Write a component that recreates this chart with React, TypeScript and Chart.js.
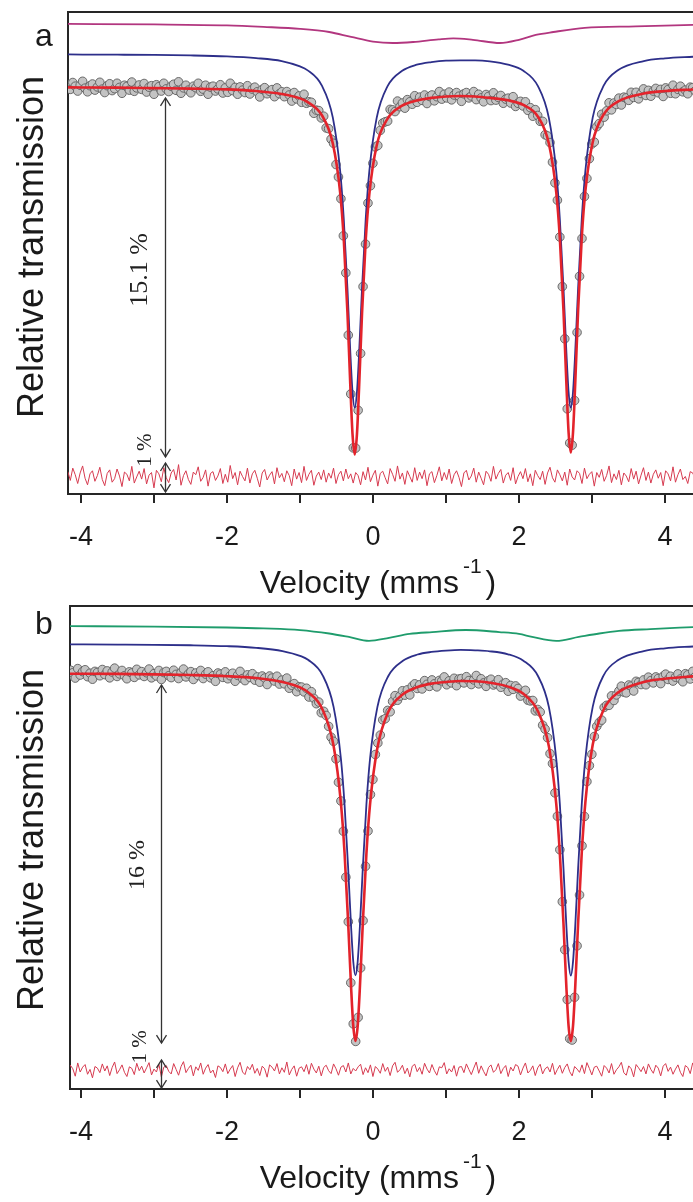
import React, { useEffect, useRef } from "react";
import { Chart, registerables } from "chart.js";

Chart.register(...registerables);

// ---------- shared axis content ----------
const X_TICKS = [-4, -3, -2, -1, 0, 1, 2, 3, 4];
const X_TITLE = "Velocity (mms";
const X_TITLE_SUP = "-1";
const Y_TITLE = "Relative transmission";

// channel calibration (velocity of channel i = CH_START + CH_STEP * i)
const CH_START = -4.18;
const CH_STEP = 0.0337;

// ---------- panel a ----------
const FIT_V_A = [-4.2, -3.5, -3.0, -2.5, -2.0, -1.6, -1.25, -1.0, -0.9, -0.7, -0.55, -0.45, -0.4, -0.35, -0.31, -0.28, -0.25, -0.22, -0.19, -0.15, -0.1, -0.05, 0.05, 0.2, 0.4, 0.6, 0.8, 1.0, 1.2, 1.4, 1.6, 1.85, 2.06, 2.26, 2.41, 2.51, 2.56, 2.61, 2.65, 2.68, 2.71, 2.74, 2.77, 2.81, 2.86, 2.91, 3.01, 3.16, 3.36, 3.71, 4.0, 4.4];
const RED_A = [99.98, 99.97, 99.95, 99.93, 99.9, 99.83, 99.71, 99.53, 99.39, 98.84, 97.68, 95.68, 93.75, 90.77, 87.74, 85.76, 84.94, 85.75, 87.72, 90.73, 93.7, 95.61, 97.59, 98.7, 99.23, 99.44, 99.55, 99.61, 99.63, 99.61, 99.55, 99.45, 99.26, 98.78, 97.67, 95.7, 93.79, 90.82, 87.81, 85.83, 85.02, 85.83, 87.81, 90.84, 93.82, 95.75, 97.73, 98.87, 99.41, 99.73, 99.83, 99.9];
const BLUE_A = [101.33, 101.32, 101.31, 101.29, 101.25, 101.18, 101.06, 100.84, 100.69, 100.05, 98.74, 96.57, 94.58, 91.75, 89.1, 87.49, 86.86, 87.49, 89.1, 91.74, 94.57, 96.55, 98.72, 100.03, 100.66, 100.91, 101.02, 101.08, 101.09, 101.09, 101.05, 100.91, 100.66, 100.03, 98.72, 96.55, 94.57, 91.74, 89.1, 87.49, 86.86, 87.49, 89.1, 91.75, 94.58, 96.57, 98.74, 100.05, 100.69, 101.06, 101.17, 101.24];
const MAG_V_A = [-4.2, -3.0, -2.0, -1.5, -1.0, -0.6, -0.3, 0.0, 0.27, 0.55, 0.9, 1.1, 1.37, 1.74, 2.0, 2.23, 2.47, 2.9, 3.6, 4.4];
const MAG_Y_A = [102.58, 102.56, 102.52, 102.46, 102.38, 102.25, 102.05, 101.86, 101.8, 101.84, 101.95, 101.99, 101.93, 101.8, 101.93, 102.13, 102.25, 102.42, 102.48, 102.54];
const DATA_A = [
  100.10, 99.90, 100.18, 100.03, 99.83, 100.07, 100.23, 99.95, 99.80, 100.05, 100.12, 99.87, 100.00, 100.19, 99.91, 99.77,
  100.05, 100.13, 99.85, 99.93, 100.15, 99.98, 99.74, 100.07, 100.02, 99.87, 100.20, 99.82, 99.96, 100.08, 99.90, 100.14,
  99.79, 99.99, 100.05, 99.70, 100.09, 100.01, 99.83, 100.15, 99.92, 99.81, 100.03, 100.11, 99.86, 100.21, 99.74, 99.96,
  100.07, 99.87, 99.76, 100.03, 99.97, 100.15, 99.82, 99.91, 100.07, 99.70, 99.99, 100.03, 99.83, 99.92, 100.09, 99.75,
  99.96, 99.78, 100.15, 99.85, 99.98, 99.70, 100.00, 99.87, 99.77, 100.05, 99.71, 99.91, 99.99, 99.80, 99.59, 99.90,
  99.97, 99.72, 99.82, 99.89, 99.60, 99.96, 99.72, 99.80, 99.60, 99.81, 99.67, 99.42, 99.77, 99.51, 99.63, 99.37,
  99.70, 99.33, 99.39, 99.37, 98.92, 99.05, 99.03, 98.73, 98.80, 98.32, 98.29, 97.86, 97.69, 96.82, 96.31, 95.42,
  93.90, 92.38, 89.83, 87.42, 85.21, 85.20, 86.75, 89.08, 91.82, 93.56, 95.24, 95.95, 96.87, 97.54, 97.60, 98.22,
  98.52, 98.57, 98.60, 99.08, 99.06, 98.99, 99.42, 99.19, 99.34, 99.13, 99.48, 99.39, 99.29, 99.64, 99.37, 99.58,
  99.45, 99.67, 99.32, 99.61, 99.67, 99.43, 99.60, 99.81, 99.50, 99.70, 99.55, 99.79, 99.47, 99.67, 99.77, 99.62,
  99.41, 99.72, 99.77, 99.55, 99.63, 99.81, 99.48, 99.70, 99.55, 99.39, 99.69, 99.61, 99.44, 99.76, 99.46, 99.57,
  99.65, 99.33, 99.50, 99.54, 99.34, 99.60, 99.20, 99.33, 99.41, 99.22, 99.39, 99.04, 99.15, 98.80, 99.07, 98.83,
  98.59, 98.59, 98.04, 97.99, 97.72, 96.92, 96.07, 95.36, 93.85, 91.82, 89.68, 86.81, 85.41, 85.32, 87.15, 89.94,
  92.24, 93.79, 95.51, 96.25, 97.06, 97.66, 97.74, 98.37, 98.50, 98.88, 98.76, 99.02, 99.35, 99.06, 99.34, 99.28,
  99.54, 99.26, 99.58, 99.55, 99.45, 99.78, 99.57, 99.78, 99.51, 99.73, 99.92, 99.65, 99.86, 99.62, 99.83, 99.94,
  99.76, 99.90, 99.61, 99.96, 99.89, 99.74, 100.07, 99.72, 99.90, 100.03, 99.80, 99.87, 99.72, 99.99, 99.97, 99.84,
];
// residual (data - fit), in 0.01 %
const RESID_A = [
  12, -8, 20, 5, -15, 9, 25, -3, -18, 7, 14, -10, 3, 22, -6, -20,
  8, 16, -12, -4, 18, 2, -22, 11, 6, -9, 24, -14, 0, 13, -5, 19,
  -16, 4, 10, -25, 15, 7, -11, 21, -2, -13, 9, 17, -7, 28, -19, 3,
  14, -6, -17, 11, 5, 23, -10, -1, 16, -21, 8, 12, -8, 2, 19, -15,
  6, -12, 26, -4, 10, -18, 13, 1, -9, 20, -14, 7, 15, -3, -23, 9,
  17, -7, 4, 12, -16, 21, -2, 8, -11, 14, 3, -20, 18, -5, 10, -13,
  24, -8, 6, 15, -19, 2, 11, -6, 16, -12, 9, -3, 20, -15, 5, 13,
  -9, 18, -4, 7, -14, 10, 3, -18, 12, -7, 22, -11, 4, 15, -21, 8,
  13, -2, -16, 19, 6, -10, 25, -5, 9, -17, 14, 1, -12, 21, -8, 11,
  -4, 16, -20, 7, 12, -13, 3, 23, -9, 10, -6, 18, -15, 5, 14, -1,
  -22, 9, 15, -7, 2, 20, -12, 11, -3, -18, 13, 6, -10, 24, -5, 8,
  17, -14, 4, 10, -8, 21, -16, 1, 12, -4, 19, -11, 7, -20, 15, 3,
  -6, 13, -17, 9, 22, -2, -12, 16, 5, -9, 11, -19, 18, 0, -7, 14,
  8, -15, 20, -4, 6, 12, -21, 10, -1, 17, -10, 3, 25, -13, 7, -6,
  15, -18, 9, 2, -11, 19, -5, 13, -16, 4, 21, -8, 11, -14, 6, 16,
  -3, 10, -20, 14, 7, -9, 23, -12, 5, 18, -6, 1, -15, 12, 9, -4,
];

// ---------- panel b ----------
const FIT_V_B = [-4.2, -3.5, -3.0, -2.5, -2.0, -1.6, -1.24, -0.99, -0.89, -0.69, -0.54, -0.44, -0.39, -0.34, -0.3, -0.27, -0.24, -0.21, -0.18, -0.14, -0.09, -0.04, 0.06, 0.21, 0.41, 0.61, 0.8, 1.0, 1.2, 1.4, 1.6, 1.85, 2.06, 2.26, 2.41, 2.51, 2.56, 2.61, 2.65, 2.68, 2.71, 2.74, 2.77, 2.81, 2.86, 2.91, 3.01, 3.16, 3.36, 3.71, 4.0, 4.4];
const RED_B = [99.97, 99.96, 99.94, 99.91, 99.86, 99.78, 99.61, 99.36, 99.17, 98.41, 96.85, 94.39, 92.24, 89.17, 86.39, 84.72, 84.07, 84.71, 86.36, 89.14, 92.19, 94.33, 96.75, 98.32, 99.08, 99.39, 99.54, 99.61, 99.65, 99.64, 99.58, 99.41, 99.1, 98.34, 96.82, 94.35, 92.18, 89.13, 86.35, 84.7, 84.06, 84.71, 86.37, 89.16, 92.23, 94.42, 96.89, 98.41, 99.16, 99.61, 99.75, 99.86];
const BLUE_B = [101.24, 101.23, 101.22, 101.2, 101.16, 101.09, 100.95, 100.73, 100.57, 99.9, 98.53, 96.31, 94.32, 91.53, 89.01, 87.5, 86.91, 87.5, 89.0, 91.53, 94.32, 96.3, 98.52, 99.87, 100.53, 100.8, 100.91, 100.97, 101.0, 100.98, 100.94, 100.81, 100.53, 99.87, 98.52, 96.29, 94.31, 91.52, 89.0, 87.49, 86.9, 87.49, 89.0, 91.53, 94.32, 96.3, 98.53, 99.9, 100.56, 100.95, 101.07, 101.15];
const GRN_V_B = [-4.2, -3.0, -2.0, -1.5, -1.0, -0.6, -0.33, -0.055, 0.22, 0.5, 0.81, 1.27, 1.73, 2.0, 2.18, 2.51, 2.82, 3.1, 3.37, 3.8, 4.4];
const GRN_Y_B = [102.03, 102.01, 101.97, 101.93, 101.86, 101.71, 101.56, 101.39, 101.52, 101.69, 101.77, 101.86, 101.77, 101.69, 101.56, 101.39, 101.56, 101.71, 101.82, 101.9, 101.99];
const DATA_B = [
  99.87, 100.12, 100.01, 99.78, 100.19, 99.91, 100.06, 100.14, 99.84, 99.99, 99.73, 100.07, 100.02, 99.88, 100.15, 99.93,
  100.09, 99.79, 100.04, 100.21, 99.85, 99.96, 100.11, 99.88, 99.75, 100.05, 100.00, 99.81, 100.16, 99.92, 100.06, 99.85,
  100.01, 100.17, 99.79, 99.97, 99.87, 100.11, 99.72, 100.02, 100.07, 99.88, 99.80, 100.12, 99.94, 99.76, 100.02, 100.17,
  99.83, 99.96, 100.06, 99.72, 100.00, 99.89, 100.11, 99.76, 99.95, 100.05, 99.79, 99.88, 99.64, 100.00, 99.95, 99.81,
  100.05, 99.75, 99.88, 99.99, 99.64, 99.90, 100.07, 99.76, 99.67, 99.92, 99.81, 99.97, 99.69, 99.83, 99.60, 99.87,
  99.78, 99.50, 99.87, 99.78, 99.65, 99.86, 99.52, 99.69, 99.53, 99.78, 99.34, 99.47, 99.54, 99.19, 99.40, 99.39,
  99.18, 99.34, 98.96, 99.19, 98.90, 98.67, 98.74, 98.28, 98.34, 98.16, 97.69, 97.22, 97.04, 96.28, 95.27, 94.46,
  93.15, 91.16, 89.23, 86.59, 84.81, 84.05, 85.09, 87.23, 89.28, 91.63, 93.16, 94.74, 95.39, 96.47, 96.97, 97.31,
  97.97, 98.02, 98.38, 98.32, 98.77, 99.02, 98.82, 99.00, 99.23, 99.04, 99.27, 99.05, 99.43, 99.53, 99.33, 99.49,
  99.31, 99.67, 99.51, 99.42, 99.70, 99.53, 99.40, 99.68, 99.66, 99.83, 99.49, 99.66, 99.57, 99.77, 99.45, 99.74,
  99.76, 99.57, 99.84, 99.67, 99.50, 99.70, 99.89, 99.53, 99.75, 99.57, 99.42, 99.67, 99.73, 99.48, 99.54, 99.71,
  99.38, 99.52, 99.58, 99.21, 99.46, 99.29, 99.44, 99.33, 99.00, 99.16, 99.25, 98.82, 98.79, 98.81, 98.36, 98.42,
  98.31, 97.74, 97.57, 97.20, 96.51, 96.08, 94.81, 93.80, 92.35, 90.10, 88.02, 85.86, 84.17, 84.11, 85.96, 88.19,
  90.39, 92.52, 93.79, 95.30, 95.99, 96.48, 97.25, 97.69, 97.86, 97.96, 98.51, 98.60, 98.60, 99.01, 98.81, 99.05,
  99.22, 99.43, 99.17, 99.14, 99.48, 99.43, 99.22, 99.64, 99.59, 99.50, 99.70, 99.49, 99.82, 99.67, 99.57, 99.83,
  99.76, 99.54, 99.86, 99.95, 99.72, 99.86, 99.65, 99.82, 99.96, 99.74, 99.62, 99.97, 99.92, 99.74, 100.07, 99.84,
];
const RESID_B = [
  -10, 15, 4, -19, 22, -6, 9, 17, -13, 2, -24, 11, 6, -8, 19, -3,
  13, -17, 8, 25, -11, 1, 16, -7, -20, 10, 5, -14, 21, -2, 12, -9,
  7, 23, -15, 3, -6, 18, -21, 9, 14, -4, -12, 20, 2, -16, 11, 26,
  -8, 5, 15, -18, 10, -1, 22, -13, 6, 17, -9, 0, -23, 13, 8, -5,
  19, -11, 3, 14, -20, 7, 24, -6, -14, 11, 1, 18, -10, 5, -17, 12,
  4, -22, 16, 9, -3, 20, -12, 7, -7, 25, -15, 2, 13, -19, 6, 10,
  -5, 17, -13, 21, 3, -9, 12, -18, 8, 15, -2, -11, 19, 4, -16, 9,
  14, -6, 22, -12, 5, -3, 10, 18, -14, 7, -8, 16, -20, 11, 3, -10,
  20, -4, 9, -17, 13, 24, -7, 1, 15, -11, 6, -21, 12, 18, -5, 8,
  -13, 21, 3, -9, 17, -2, -16, 10, 7, 23, -12, 4, -6, 14, -19, 9,
  11, -8, 19, 2, -14, 6, 25, -10, 13, -4, -18, 8, 16, -7, 1, 20,
  -11, 5, 14, -20, 9, -3, 17, 12, -15, 6, 22, -9, -1, 13, -17, 7,
  18, -12, 4, 10, -6, 21, -14, 2, 15, -10, 8, 19, -5, -18, 11, 3,
  -7, 16, -11, 23, 5, -15, 9, 12, -3, -19, 14, 6, -9, 20, -13, 1,
  10, 24, -8, -16, 13, 4, -21, 17, 7, -5, 11, -12, 19, 2, -10, 15,
  6, -18, 12, 20, -4, 9, -13, 3, 16, -7, -20, 14, 8, -11, 22, -2,
];

// ---------- styles ----------
const SANS = '"Liberation Sans", Arial, sans-serif';
const SERIF = '"Liberation Serif", "Times New Roman", serif';
const AXIS_COLOR = "#262626";
const TEXT_COLOR = "#1a1a1a";
const RED = "#e3232b";
const BLUE = "#2d2f8a";
const MAGENTA = "#b2367f";
const GREEN = "#1f9c6c";
const RESID_COLOR = "#d63a4f";

type Panel = {
  letter: string; letterY: number;
  height: number; padTop: number; axisLeft: number; xAxisH: number;
  xMin: number; xMax: number; yMin: number; yMax: number;
  fitV: number[]; red: number[]; blue: number[];
  subV: number[]; subY: number[]; subColor: string;
  data: number[]; resid: number[]; resBase: number; resGain: number;
  arrowV: number; arrowTop: number; arrowBottom: number; resTop: number; resBottom: number;
  depthLabel: string; depthSize: number; depthV: number; depthY: number; oneV: number; oneY: number;
  yTitleCY: number; xTitleBase: number; xTitleCX: number;
};

const PANEL_A: Panel = {
  letter: "a", letterY: 46,
  height: 601, padTop: 12, axisLeft: 68, xAxisH: 107,
  xMin: -4.178, xMax: 4.384, yMin: 83.32, yMax: 103.07,
  fitV: FIT_V_A, red: RED_A, blue: BLUE_A,
  subV: MAG_V_A, subY: MAG_Y_A, subColor: MAGENTA,
  data: DATA_A, resid: RESID_A, resBase: 84.02, resGain: 1.8,
  arrowV: -2.85, arrowTop: 99.55, arrowBottom: 84.84, resTop: 84.59, resBottom: 83.4,
  depthLabel: "15.1 %", depthSize: 26, depthV: -3.19, depthY: 92.5, oneV: -3.12, oneY: 85.12,
  yTitleCY: 247, xTitleBase: 593, xTitleCX: 378,
};

const PANEL_B: Panel = {
  letter: "b", letterY: 33,
  height: 601, padTop: 5, axisLeft: 70, xAxisH: 113,
  xMin: -4.151, xMax: 4.384, yMin: 81.99, yMax: 102.9,
  fitV: FIT_V_B, red: RED_B, blue: BLUE_B,
  subV: GRN_V_B, subY: GRN_Y_B, subColor: GREEN,
  data: DATA_B, resid: RESID_B, resBase: 82.81, resGain: 1.4,
  arrowV: -2.9, arrowTop: 99.48, arrowBottom: 83.98, resTop: 83.25, resBottom: 82.03,
  depthLabel: "16 %", depthSize: 24, depthV: -3.23, depthY: 91.69, oneV: -3.19, oneY: 83.81,
  yTitleCY: 239, xTitleBase: 587, xTitleCX: 378,
};

function head(ctx: CanvasRenderingContext2D, x: number, y: number, dir: number) {
  // dir = -1 : tip pointing up ; +1 : tip pointing down
  ctx.beginPath();
  ctx.moveTo(x - 5, y - dir * 8);
  ctx.lineTo(x, y);
  ctx.lineTo(x + 5, y - dir * 8);
  ctx.stroke();
}

function annotPlugin(p: Panel) {
  return {
    id: "annot" + p.letter,
    afterDraw(chart: any) {
      const { ctx, chartArea: ca, scales } = chart;
      const xs = scales.x;
      const ys = scales.y;
      ctx.save();
      // top frame line
      ctx.strokeStyle = AXIS_COLOR;
      ctx.lineWidth = 2;
      ctx.beginPath();
      ctx.moveTo(ca.left - 1, ca.top);
      ctx.lineTo(chart.width, ca.top);
      ctx.stroke();

      ctx.fillStyle = TEXT_COLOR;
      // panel letter
      ctx.font = `32px ${SANS}`;
      ctx.textAlign = "center";
      ctx.textBaseline = "alphabetic";
      ctx.fillText(p.letter, 44, p.letterY);

      // y title
      ctx.save();
      ctx.translate(43, p.yTitleCY);
      ctx.rotate(-Math.PI / 2);
      ctx.font = `36px ${SANS}`;
      ctx.textAlign = "center";
      ctx.textBaseline = "alphabetic";
      ctx.fillText(Y_TITLE, 0, 0);
      ctx.restore();

      // x title with superscript
      ctx.font = `32px ${SANS}`;
      const w1 = ctx.measureText(X_TITLE).width;
      const w3 = ctx.measureText(")").width;
      ctx.font = `21px ${SANS}`;
      const w2 = ctx.measureText(X_TITLE_SUP).width;
      const gap = 4;
      const total = w1 + gap + w2 + gap + w3;
      const x0 = p.xTitleCX - total / 2;
      ctx.textAlign = "left";
      ctx.font = `32px ${SANS}`;
      ctx.fillText(X_TITLE, x0, p.xTitleBase);
      ctx.font = `21px ${SANS}`;
      ctx.fillText(X_TITLE_SUP, x0 + w1 + gap, p.xTitleBase - 20);
      ctx.font = `32px ${SANS}`;
      ctx.fillText(")", x0 + w1 + gap + w2 + gap, p.xTitleBase);

      // depth arrows
      const ax = Math.round(xs.getPixelForValue(p.arrowV)) + 0.5;
      ctx.strokeStyle = "#333333";
      ctx.lineWidth = 1.3;
      const yT = ys.getPixelForValue(p.arrowTop);
      const yB = ys.getPixelForValue(p.arrowBottom);
      ctx.beginPath();
      ctx.moveTo(ax, yT);
      ctx.lineTo(ax, yB);
      ctx.stroke();
      head(ctx, ax, yT, -1);
      head(ctx, ax, yB, 1);
      const rT = ys.getPixelForValue(p.resTop);
      const rB = ys.getPixelForValue(p.resBottom);
      ctx.beginPath();
      ctx.moveTo(ax, rT);
      ctx.lineTo(ax, rB);
      ctx.stroke();
      head(ctx, ax, rT, -1);
      head(ctx, ax, rB, 1);

      // rotated serif labels
      ctx.fillStyle = "#222222";
      ctx.textAlign = "center";
      ctx.textBaseline = "middle";
      ctx.save();
      ctx.translate(xs.getPixelForValue(p.depthV), ys.getPixelForValue(p.depthY));
      ctx.rotate(-Math.PI / 2);
      ctx.font = `${p.depthSize}px ${SERIF}`;
      ctx.fillText(p.depthLabel, 0, 0);
      ctx.restore();
      ctx.save();
      ctx.translate(xs.getPixelForValue(p.oneV), ys.getPixelForValue(p.oneY));
      ctx.rotate(-Math.PI / 2);
      ctx.font = `21px ${SERIF}`;
      ctx.fillText("1 %", 0, 0);
      ctx.restore();

      ctx.restore();
    },
  };
}

function makeChart(canvas: HTMLCanvasElement, p: Panel) {
  const fitRed = p.fitV.map((v, i) => ({ x: v, y: p.red[i] }));
  const fitBlue = p.fitV.map((v, i) => ({ x: v, y: p.blue[i] }));
  const sub = p.subV.map((v, i) => ({ x: v, y: p.subY[i] }));
  const pts = p.data.map((y, i) => ({ x: CH_START + CH_STEP * i, y }));
  const res = p.resid.map((r, i) => ({ x: CH_START + CH_STEP * i, y: p.resBase + (p.resGain * r) / 100 }));

  return new Chart(canvas, {
    type: "scatter",
    data: {
      datasets: [
        { data: fitRed, showLine: true, borderColor: RED, borderWidth: 2.6, pointRadius: 0, cubicInterpolationMode: "monotone", order: 1 } as any,
        { data: fitBlue, showLine: true, borderColor: BLUE, borderWidth: 1.8, pointRadius: 0, cubicInterpolationMode: "monotone", order: 2 } as any,
        { data: sub, showLine: true, borderColor: p.subColor, borderWidth: 1.8, pointRadius: 0, cubicInterpolationMode: "monotone", order: 3 } as any,
        { data: res, showLine: true, borderColor: RESID_COLOR, borderWidth: 1, pointRadius: 0, tension: 0, order: 4 } as any,
        { data: pts, showLine: false, pointRadius: 4.3, pointBackgroundColor: "#c3c3c3", pointBorderColor: "#5e5e5e", pointBorderWidth: 0.9, order: 5 } as any,
      ],
    },
    options: {
      animation: false,
      responsive: false,
      maintainAspectRatio: false,
      devicePixelRatio: 1,
      events: [],
      layout: { autoPadding: false, padding: { top: p.padTop, left: 0, right: 0, bottom: 0 } },
      plugins: { legend: { display: false }, tooltip: { enabled: false } },
      scales: {
        x: {
          type: "linear",
          min: p.xMin,
          max: p.xMax,
          afterBuildTicks: (s: any) => {
            s.ticks = X_TICKS.map((v) => ({ value: v }));
          },
          afterFit: (s: any) => {
            s.height = p.xAxisH;
            s.paddingLeft = 0;
            s.paddingRight = 0;
          },
          ticks: {
            autoSkip: false,
            maxRotation: 0,
            padding: 18,
            color: TEXT_COLOR,
            font: { family: SANS, size: 27 },
            callback: (v: any) => (Number(v) % 2 === 0 ? String(v) : ""),
          },
          grid: { display: true, drawOnChartArea: false, drawTicks: true, tickLength: 9, color: AXIS_COLOR, lineWidth: 2 },
          border: { display: true, color: AXIS_COLOR, width: 2 },
        },
        y: {
          type: "linear",
          min: p.yMin,
          max: p.yMax,
          afterFit: (s: any) => {
            s.width = p.axisLeft;
          },
          ticks: { display: false },
          grid: { display: false, drawTicks: false },
          border: { display: true, color: AXIS_COLOR, width: 2 },
        },
      },
    } as any,
    plugins: [annotPlugin(p)],
  });
}

export default function App() {
  const refA = useRef<HTMLCanvasElement>(null);
  const refB = useRef<HTMLCanvasElement>(null);

  useEffect(() => {
    const a = makeChart(refA.current as HTMLCanvasElement, PANEL_A);
    const b = makeChart(refB.current as HTMLCanvasElement, PANEL_B);
    return () => {
      a.destroy();
      b.destroy();
    };
  }, []);

  return (
    <div style={{ position: "absolute", left: 0, top: 0, width: 693, height: 1202, background: "#ffffff" }}>
      <canvas ref={refA} width={693} height={PANEL_A.height} style={{ display: "block", width: 693, height: PANEL_A.height }} />
      <canvas ref={refB} width={693} height={PANEL_B.height} style={{ display: "block", width: 693, height: PANEL_B.height }} />
    </div>
  );
}
